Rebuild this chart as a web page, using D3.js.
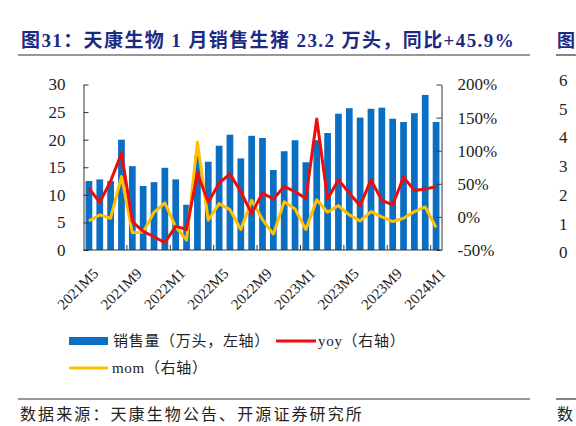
<!DOCTYPE html>
<html>
<head>
<meta charset="utf-8">
<script src="https://cdn.jsdelivr.net/npm/d3@7/dist/d3.min.js"></script>
<style>
  body { margin: 0; background: #fff; }
  text { font-family: "Liberation Serif", "Noto Sans CJK SC", serif; }
</style>
</head>
<body>
<div id="chart"></div>
<script>
// months on the x axis
var months = ["2021M5","2021M6","2021M7","2021M8","2021M9","2021M10","2021M11","2021M12",
  "2022M1","2022M2","2022M3","2022M4","2022M5","2022M6","2022M7","2022M8","2022M9","2022M10","2022M11","2022M12",
  "2023M1","2023M2","2023M3","2023M4","2023M5","2023M6","2023M7","2023M8","2023M9","2023M10","2023M11","2023M12",
  "2024M1"];
// sales volume, 10k head (left axis)
var sales = [12.5,12.8,12.5,20.0,15.2,11.6,12.3,14.9,12.8,8.2,17.1,16.0,18.9,20.9,16.6,20.7,20.3,14.5,17.9,19.9,15.9,19.9,21.2,24.7,25.7,24.0,25.6,25.8,23.8,23.2,24.8,28.1,23.2];
// yoy %, right axis
var yoy = [43,22,54,96,-7,-22,-30,-39,-14,-19,66,22,51,65,38,5,36,27,46,38,28,148,27,56,36,17,56,25,18,60,40,42,45.9];
// mom %, right axis
var mom = [-6,3,-2,61,-24,-23,7,21,-15,-35,113,-5,20,11,-19,25,-4,-26,23,12,-19,26,7,17,3,-6,8,0,-7,-2,8,15,-16];

var leftTicks = [0,5,10,15,20,25,30];
var rightTicks = [-50,0,50,100,150,200];
var labelMonths = ["2021M5","2021M9","2022M1","2022M5","2022M9","2023M1","2023M5","2023M9","2024M1"];

var W = 576, H = 426;
var pLeft = 83.5, pRight = 441.5, pTop = 84.5, pBottom = 250;

var svg = d3.select("#chart").append("svg")
  .attr("width", W)
  .attr("height", H);

// title
svg.append("text")
  .attr("x", 21).attr("y", 47)
  .attr("fill", "#1c2a84")
  .style("font-size", "19px")
  .style("font-weight", "bold")
  .style("letter-spacing", "1.4px")
  .text("图31：天康生物 1 月销售生猪 23.2 万头，同比+45.9%");
svg.append("line")
  .attr("x1", 18).attr("x2", 530).attr("y1", 55).attr("y2", 55)
  .attr("stroke", "#333").attr("stroke-width", 1.2);

// cut-off neighbour chart on the right
svg.append("text")
  .attr("x", 557).attr("y", 47)
  .attr("fill", "#1c2a84")
  .style("font-size", "18px")
  .style("font-weight", "bold")
  .text("图");
svg.append("line")
  .attr("x1", 556).attr("x2", 576).attr("y1", 55).attr("y2", 55)
  .attr("stroke", "#333").attr("stroke-width", 1.2);
svg.selectAll("text.nb")
  .data(["6","5","4","3","2","1","0"])
  .enter().append("text")
  .attr("class", "nb")
  .attr("x", 559)
  .attr("y", function(d, i) { return 86 + i * 28.7; })
  .style("font-size", "17px")
  .attr("fill", "#222")
  .text(function(d) { return d; });

var x = d3.scaleBand().domain(months).range([pLeft, pRight]).paddingInner(0.38).paddingOuter(0.19);
var xc = function(d) { return x(d) + x.bandwidth() / 2; };
var yL = d3.scaleLinear().domain([0, 30]).range([pBottom, pTop]);
var yR = d3.scaleLinear().domain([-50, 200]).range([pBottom, pTop]);

// bars
svg.selectAll("rect.bar")
  .data(sales)
  .enter()
  .append("rect")
  .attr("class", "bar")
  .attr("x", function(d, i) { return x(months[i]); })
  .attr("width", x.bandwidth())
  .attr("y", function(d) { return yL(d); })
  .attr("height", function(d) { return pBottom - yL(d); })
  .attr("fill", "#0a6fc2");

// lines
var lineR = d3.line()
  .x(function(d, i) { return xc(months[i]); })
  .y(function(d) { return yR(d); });

svg.append("path")
  .datum(mom)
  .attr("d", lineR)
  .attr("fill", "none")
  .attr("stroke", "#ffc000")
  .attr("stroke-width", 3)
  .attr("stroke-linejoin", "round");

svg.append("path")
  .datum(yoy)
  .attr("d", lineR)
  .attr("fill", "none")
  .attr("stroke", "#ee0c0c")
  .attr("stroke-width", 3)
  .attr("stroke-linejoin", "round");

// left axis
var axL = svg.append("g")
  .attr("transform", "translate(" + pLeft + ",0)")
  .call(d3.axisLeft(yL).tickValues(leftTicks).tickSizeInner(-5).tickSizeOuter(0).tickPadding(18));
// right axis
var axR = svg.append("g")
  .attr("transform", "translate(" + pRight + ",0)")
  .call(d3.axisRight(yR).tickValues(rightTicks).tickSizeInner(-5).tickSizeOuter(0).tickPadding(16)
    .tickFormat(function(d) { return d + "%"; }));
// bottom axis, ticks at group boundaries
var axB = svg.append("g")
  .attr("transform", "translate(0," + pBottom + ")");
axB.append("line")
  .attr("x1", pLeft).attr("x2", pRight)
  .attr("stroke", "#333");
axB.selectAll("line.tk")
  .data(labelMonths.slice(1))
  .enter().append("line")
  .attr("class", "tk")
  .attr("x1", function(d) { return x(d) - x.step() * x.paddingInner() / 2; })
  .attr("x2", function(d) { return x(d) - x.step() * x.paddingInner() / 2; })
  .attr("y1", 0).attr("y2", -5)
  .attr("stroke", "#333");
axB.selectAll("text")
  .data(labelMonths)
  .enter().append("text")
  .attr("transform", function(d) { return "translate(" + (xc(d) + 3) + ",17) rotate(-45)"; })
  .attr("text-anchor", "end")
  .attr("dy", "0.7em")
  .style("font-size", "15px")
  .attr("fill", "#222")
  .text(function(d) { return d; });

[axL, axR].forEach(function(g) {
  g.select(".domain").attr("stroke", "#333");
  g.selectAll(".tick line").attr("stroke", "#333");
  g.selectAll(".tick text")
    .style("font-size", "17px")
    .style("font-family", "'Liberation Serif', serif")
    .attr("fill", "#222");
});

// legend
svg.append("rect")
  .attr("x", 69).attr("y", 337).attr("width", 39).attr("height", 8)
  .attr("fill", "#0a6fc2");
svg.append("text")
  .attr("x", 113).attr("y", 346)
  .style("font-size", "15px").style("letter-spacing", "0.7px").attr("fill", "#222")
  .text("销售量（万头，左轴）");
svg.append("line")
  .attr("x1", 276).attr("x2", 316).attr("y1", 341).attr("y2", 341)
  .attr("stroke", "#ee0c0c").attr("stroke-width", 3);
svg.append("text")
  .attr("x", 318).attr("y", 346)
  .style("font-size", "15px").style("letter-spacing", "0.7px").attr("fill", "#222")
  .text("yoy（右轴）");
svg.append("line")
  .attr("x1", 69).attr("x2", 108).attr("y1", 368).attr("y2", 368)
  .attr("stroke", "#ffc000").attr("stroke-width", 3);
svg.append("text")
  .attr("x", 112).attr("y", 373)
  .style("font-size", "15px").style("letter-spacing", "0.7px").attr("fill", "#222")
  .text("mom（右轴）");

// source
svg.append("line")
  .attr("x1", 18).attr("x2", 530).attr("y1", 399).attr("y2", 399)
  .attr("stroke", "#333").attr("stroke-width", 1.2);
svg.append("line")
  .attr("x1", 556).attr("x2", 576).attr("y1", 399).attr("y2", 399)
  .attr("stroke", "#333").attr("stroke-width", 1.2);
svg.append("text")
  .attr("x", 20).attr("y", 420)
  .style("font-size", "16px").style("letter-spacing", "2.1px").attr("fill", "#222")
  .text("数据来源：天康生物公告、开源证券研究所");
svg.append("text")
  .attr("x", 557).attr("y", 420)
  .style("font-size", "16px").attr("fill", "#222")
  .text("数");
</script>
</body>
</html>
